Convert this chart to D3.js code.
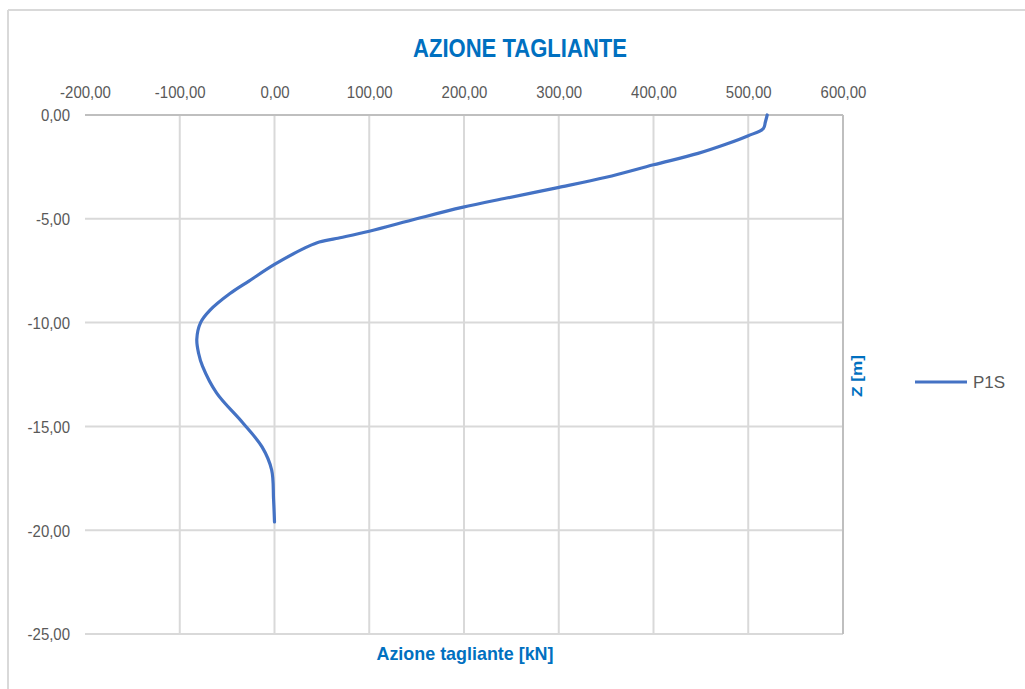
<!DOCTYPE html>
<html>
<head>
<meta charset="utf-8">
<script src="https://cdn.jsdelivr.net/npm/d3@7"></script>
<style>
  html, body { margin: 0; padding: 0; background: #ffffff; }
  svg { display: block; }
</style>
</head>
<body>
<svg id="chart" width="1025" height="689"></svg>
<script>
// Depth along the pile (m) and shear force (kN) for pile P1S
const depth = [0, -0.35, -0.65, -1.0, -1.4, -1.85, -2.4, -3.0, -3.5, -4.0, -4.45, -5.0, -5.6, -5.95, -6.15, -6.45, -7.2, -8.0, -8.6, -9.4, -10.0, -10.8, -11.5, -12.1, -13.4, -14.8, -16.0, -17.1, -18.5, -19.6];
const shear = [520, 518, 516, 500, 477, 447, 400, 350, 299, 245, 198, 150, 100, 65, 45, 30, 0, -27, -47, -68, -78, -82, -80, -76, -61, -34, -13, -3, -1, 0];

const seriesName = "P1S";
const title = "AZIONE TAGLIANTE";
const xTitle = "Azione tagliante [kN]";
const yTitle = "Z [m]";

const xTicks = [-200, -100, 0, 100, 200, 300, 400, 500, 600];
const yTicks = [0, -5, -10, -15, -20, -25];

const svg = d3.select("#chart");

const plotLeft = 85, plotRight = 843, plotTop = 115, plotBottom = 634;
const x = d3.scaleLinear().domain([-200, 600]).range([plotLeft, plotRight]);
const y = d3.scaleLinear().domain([0, -25]).range([plotTop, plotBottom]);

const fmt = d3.formatLocale({ decimal: ",", thousands: ".", grouping: [3], currency: ["", "€"], minus: "-" }).format(".2f");

const FONT = "'Liberation Sans', Arial, sans-serif";
const grid = "#d9d9d9";
const axisCol = "#bfbfbf";
const blue = "#0070c0";
const lineBlue = "#4472c4";
const labelCol = "#595959";

// outer chart frame
svg.append("line").attr("x1", 8).attr("x2", 1025).attr("y1", 10).attr("y2", 10)
  .attr("stroke", grid).attr("stroke-width", 2);
svg.append("line").attr("x1", 8).attr("x2", 8).attr("y1", 10).attr("y2", 689)
  .attr("stroke", grid).attr("stroke-width", 2);

// horizontal gridlines
svg.append("g")
  .selectAll("line").data(yTicks.filter(d => d !== 0)).join("line")
  .attr("x1", plotLeft).attr("x2", plotRight)
  .attr("y1", d => y(d)).attr("y2", d => y(d))
  .attr("stroke", grid).attr("stroke-width", 2);

// vertical gridlines
svg.append("g")
  .selectAll("line").data(xTicks.filter(d => d !== -200 && d !== 600)).join("line")
  .attr("x1", d => x(d)).attr("x2", d => x(d))
  .attr("y1", plotTop).attr("y2", plotBottom)
  .attr("stroke", grid).attr("stroke-width", 2);

// axis lines: value axis along the top, depth axis line on the right edge
svg.append("line").attr("x1", plotLeft).attr("x2", plotRight).attr("y1", plotTop).attr("y2", plotTop)
  .attr("stroke", axisCol).attr("stroke-width", 2);
svg.append("line").attr("x1", plotRight).attr("x2", plotRight).attr("y1", plotTop).attr("y2", plotBottom)
  .attr("stroke", axisCol).attr("stroke-width", 2);

// top axis tick labels
const xAxis = d3.axisTop(x).tickValues(xTicks).tickFormat(fmt).tickSize(0).tickPadding(0);
const gx = svg.append("g").attr("transform", `translate(0,${plotTop - 17})`).call(xAxis);
gx.select(".domain").remove();
gx.selectAll("text").attr("font-family", FONT).attr("font-size", 17).attr("fill", labelCol)
  .attr("dy", 0);

// left axis tick labels
const yAxis = d3.axisLeft(y).tickValues(yTicks).tickFormat(fmt).tickSize(0).tickPadding(0);
const gy = svg.append("g").attr("transform", `translate(70,0)`).call(yAxis);
gy.select(".domain").remove();
gy.selectAll("text").attr("font-family", FONT).attr("font-size", 17).attr("fill", labelCol)
  .attr("dy", "0.35em");

// condense tick labels
svg.selectAll(".tick text").each(function () {
  const w = this.getComputedTextLength();
  d3.select(this).attr("textLength", w * 0.88).attr("lengthAdjust", "spacingAndGlyphs");
});

// shear force curve
const line = d3.line()
  .x((d, i) => x(shear[i]))
  .y(d => y(d))
  .curve(d3.curveCatmullRom.alpha(0.5));
svg.append("path").datum(depth)
  .attr("d", line)
  .attr("fill", "none")
  .attr("stroke", lineBlue)
  .attr("stroke-width", 3.2)
  .attr("stroke-linejoin", "round")
  .attr("stroke-linecap", "round");

// chart title
svg.append("text").attr("x", 520).attr("y", 57).attr("text-anchor", "middle")
  .attr("font-family", FONT).attr("font-weight", "bold").attr("font-size", 25)
  .attr("fill", blue).attr("textLength", 214).attr("lengthAdjust", "spacingAndGlyphs")
  .text(title);

// x axis title
svg.append("text").attr("x", 465).attr("y", 660).attr("text-anchor", "middle")
  .attr("font-family", FONT).attr("font-weight", "bold").attr("font-size", 19)
  .attr("fill", blue).attr("textLength", 177).attr("lengthAdjust", "spacingAndGlyphs")
  .text(xTitle);

// y axis title (rotated, right of the plot)
svg.append("text").attr("transform", "translate(862,376) rotate(-90)")
  .attr("text-anchor", "middle")
  .attr("font-family", FONT).attr("font-weight", "bold").attr("font-size", 15)
  .attr("fill", blue).attr("textLength", 42).attr("lengthAdjust", "spacingAndGlyphs")
  .text(yTitle);

// legend
svg.append("line").attr("x1", 915).attr("x2", 967).attr("y1", 382).attr("y2", 382)
  .attr("stroke", lineBlue).attr("stroke-width", 3);
svg.append("text").attr("x", 973).attr("y", 388)
  .attr("font-family", FONT).attr("font-size", 17).attr("fill", labelCol)
  .text(seriesName);
</script>
</body>
</html>
